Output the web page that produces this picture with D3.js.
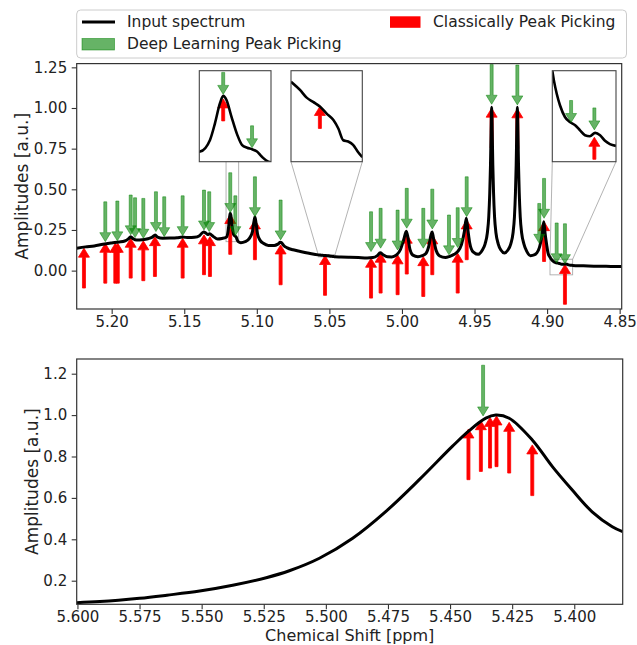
<!DOCTYPE html>
<html>
<head>
<meta charset="utf-8">
<script src="https://cdn.jsdelivr.net/npm/d3@7/dist/d3.min.js"></script>
<style>
  html, body { margin: 0; padding: 0; background: #fff; }
</style>
</head>
<body>
<script>
// ---- Spectrum, upper panel (ppm, amplitude), descending ppm ----
const spectrumTop = [
  [5.2241,0.138],[5.2180,0.146],[5.2120,0.152],[5.2060,0.162],[5.2000,0.170],[5.1950,0.176],
  [5.1910,0.182],[5.1885,0.195],[5.1869,0.208],[5.1852,0.196],[5.1828,0.188],[5.1790,0.190],
  [5.1750,0.196],[5.1720,0.206],[5.1700,0.219],[5.1684,0.206],[5.1650,0.199],[5.1600,0.200],
  [5.1550,0.202],[5.1511,0.206],[5.1470,0.203],[5.1430,0.205],[5.1395,0.215],[5.1366,0.238],
  [5.1350,0.230],[5.1338,0.222],[5.1326,0.226],[5.1300,0.210],[5.1270,0.195],[5.1240,0.198],
  [5.1211,0.205],[5.1199,0.236],[5.1193,0.280],[5.1187,0.333],[5.1183,0.353],[5.1179,0.342],
  [5.1173,0.298],[5.1166,0.250],[5.1160,0.222],[5.1154,0.215],[5.1148,0.211],[5.1142,0.205],
  [5.1136,0.191],[5.1128,0.178],[5.1110,0.172],[5.1080,0.178],[5.1050,0.200],[5.1030,0.240],
  [5.1020,0.300],[5.1013,0.330],[5.1005,0.290],[5.0995,0.225],[5.0980,0.190],[5.0955,0.168],
  [5.0920,0.155],[5.0880,0.155],[5.0855,0.163],[5.0838,0.174],[5.0828,0.170],[5.0815,0.155],
  [5.0790,0.140],[5.0750,0.128],[5.0700,0.118],[5.0640,0.107],
  [5.0577,0.0968],[5.0562,0.0955],[5.0552,0.0944],[5.0541,0.0937],[5.0530,0.0930],[5.0519,0.0919],
  [5.0508,0.0909],[5.0500,0.0896],[5.0492,0.0878],[5.0484,0.0876],[5.0476,0.0871],[5.0468,0.0860],
  [5.0461,0.0852],[5.0420,0.084],[5.0360,0.082],[5.0300,0.080],[5.0240,0.078],[5.0200,0.080],
  [5.0170,0.092],[5.0150,0.110],[5.0130,0.098],[5.0100,0.085],[5.0070,0.084],[5.0040,0.095],
  [5.0010,0.130],[4.9988,0.190],[4.9970,0.242],[4.9958,0.200],[4.9945,0.130],[4.9925,0.095],
  [4.9890,0.086],[4.9860,0.092],[4.9835,0.105],[4.9815,0.150],[4.9800,0.220],[4.9792,0.238],
  [4.9783,0.200],[4.9765,0.125],[4.9740,0.090],[4.9700,0.080],[4.9670,0.088],[4.9640,0.100],
  [4.9615,0.118],[4.9590,0.160],[4.9570,0.240],[4.9557,0.322],[4.9547,0.260],[4.9533,0.170],
  [4.9510,0.115],[4.9475,0.100],[4.9447,0.125],[4.9427,0.165],[4.9412,0.230],[4.9402,0.330],
  [4.9395,0.480],[4.9390,0.650],[4.9386,0.850],[4.9382,1.005],[4.9378,0.850],[4.9374,0.650],
  [4.9369,0.480],[4.9362,0.330],[4.9352,0.230],[4.9337,0.165],[4.9317,0.125],[4.9294,0.108],
  [4.9271,0.125],[4.9250,0.165],[4.9235,0.230],[4.9225,0.330],[4.9218,0.480],[4.9213,0.650],
  [4.9209,0.850],[4.9205,1.005],[4.9201,0.850],[4.9197,0.650],[4.9192,0.480],[4.9185,0.330],
  [4.9175,0.230],[4.9160,0.165],[4.9140,0.118],[4.9115,0.092],[4.9085,0.098],[4.9060,0.125],
  [4.9045,0.170],[4.9033,0.230],[4.9023,0.300],[4.9014,0.230],[4.9003,0.160],[4.8994,0.110],
  [4.8987,0.092],
  [4.8980,0.0830],[4.8976,0.0763],[4.8969,0.0673],[4.8961,0.0595],[4.8949,0.0517],[4.8937,0.0483],
  [4.8924,0.0461],[4.8912,0.0427],[4.8900,0.0394],[4.8888,0.0387],[4.8875,0.0410],[4.8863,0.0394],
  [4.8851,0.0356],[4.8839,0.0334],[4.8824,0.0322],[4.8750,0.030],[4.8650,0.027],[4.8560,0.026],
  [4.8486,0.025]
];

// Deep-learning picks (ppm, amplitude at arrow tip), upper panel
const dlPeaksTop = [
  [5.2044,0.178],[5.1961,0.183],[5.1869,0.220],[5.1839,0.203],[5.1782,0.199],[5.1695,0.240],
  [5.1638,0.209],[5.1511,0.215],[5.1364,0.250],[5.1328,0.240],[5.1183,0.357],[5.1148,0.215],
  [5.1013,0.332],[5.0836,0.189],[5.0213,0.117],[5.0147,0.138],[5.0030,0.127],[4.9967,0.261],
  [4.9853,0.138],[4.9791,0.256],[4.9676,0.097],[4.9616,0.142],[4.9554,0.332],[4.9382,1.023],
  [4.9205,1.019],[4.9054,0.168],[4.9021,0.322],[4.8934,0.048],[4.8877,0.043]
];

// Classical picks (ppm, amplitude at arrow tip), upper panel
const classicPeaksTop = [
  [5.2191,0.138],[5.2044,0.168],[5.1975,0.168],[5.1958,0.168],[5.1869,0.199],[5.1782,0.183],
  [5.1702,0.209],[5.1511,0.199],[5.1364,0.220],[5.1323,0.209],[5.1183,0.345],[5.1013,0.312],
  [5.0836,0.158],[5.0530,0.093],[5.0213,0.076],[5.0147,0.107],[5.0030,0.097],[4.9967,0.224],
  [4.9853,0.086],[4.9791,0.220],[4.9616,0.107],[4.9554,0.312],[4.9382,0.999],[4.9205,0.995],
  [4.9021,0.301],[4.8877,0.038]
];

// ---- Spectrum, lower panel ----
const spectrumBottom = [
  [5.6003,0.094],[5.5910,0.099],[5.5750,0.115],[5.5640,0.130],[5.5508,0.150],[5.5375,0.178],
  [5.5240,0.2145],[5.5147,0.248],[5.5026,0.3085],[5.4892,0.405],[5.4758,0.535],[5.4624,0.688],
  [5.4490,0.850],[5.4423,0.925],[5.4356,0.985],[5.4316,1.000],[5.4262,0.985],[5.4169,0.880],
  [5.4088,0.751],[5.4008,0.638],[5.3928,0.533],[5.3847,0.461],[5.3805,0.437]
];
const dlPeaksBottom = [[5.4367,0.996]];
const classicPeaksBottom = [
  [5.4426,0.933],[5.4376,0.973],[5.4339,0.989],[5.4313,0.996],[5.4262,0.965],[5.4169,0.856]
];

// Tick values
const topXTicks = [5.20, 5.15, 5.10, 5.05, 5.00, 4.95, 4.90, 4.85];
const topYTicks = [0.00, 0.25, 0.50, 0.75, 1.00, 1.25];
const bottomXTicks = [5.600, 5.575, 5.550, 5.525, 5.500, 5.475, 5.450, 5.425, 5.400];
const bottomYTicks = [0.2, 0.4, 0.6, 0.8, 1.0, 1.2];

// Legend entries
const legendLabels = ["Input spectrum", "Deep Learning Peak Picking", "Classically Peak Picking"];

// ---- Styling ----
const FONT = "DejaVu Sans, Verdana, sans-serif";
const GREEN = "rgba(0,128,0,0.6)";
const RED = "#ff0000";
const SPINE = "#333";
const ARROW_DATA_LEN = 0.245;   // arrow length in amplitude units
const INSET_ARROW_PX = 22;      // arrow length inside zoom panels

const W = 637, H = 645;
const svg = d3.select("body").append("svg")
  .attr("width", W).attr("height", H)
  .attr("font-family", FONT);

const topPanel = { left: 76.7, right: 621.7, top: 63.6, bottom: 309 };
const botPanel = { left: 76.7, right: 622.7, top: 359, bottom: 604.3 };

const xTop = d3.scaleLinear().domain([5.2241, 4.8486]).range([topPanel.left, topPanel.right]);
const yTop = d3.scaleLinear().domain([-0.236, 1.273]).range([topPanel.bottom, topPanel.top]);
const xBot = d3.scaleLinear().domain([5.6003, 5.3805]).range([botPanel.left, botPanel.right]);
const yBot = d3.scaleLinear().domain([0.086, 1.271]).range([botPanel.bottom, botPanel.top]);

// Arrow outline: tip at (x, yTip), tail at (x, yTail)
function arrowPath(x, yTip, yTail, headW, headL, shaftW) {
  const s = yTail < yTip ? 1 : -1;           // +1: points down, -1: points up
  const yb = yTip - s * headL;
  return [
    [x - shaftW / 2, yTail], [x - shaftW / 2, yb], [x - headW / 2, yb], [x, yTip],
    [x + headW / 2, yb], [x + shaftW / 2, yb], [x + shaftW / 2, yTail]
  ].map((p, i) => (i ? "L" : "M") + p[0].toFixed(2) + "," + p[1].toFixed(2)).join("") + "Z";
}

function drawArrows(g, peaks, x, y, dir, color, fixedPx, sizes) {
  g.selectAll(null).data(peaks).enter().append("path")
    .attr("d", d => {
      const px = x(d[0]), tip = y(d[1]);
      let tail;
      if (fixedPx) tail = dir === "down" ? tip - fixedPx : tip + fixedPx;
      else tail = dir === "down" ? y(d[1] + ARROW_DATA_LEN) : y(d[1] - ARROW_DATA_LEN);
      return arrowPath(px, tip, tail, sizes.hw, sizes.hl, sizes.sw);
    })
    .attr("fill", color)
    .attr("stroke", color)
    .attr("stroke-width", 0.8)
    .attr("stroke-linejoin", "miter");
}

const lineGen = (x, y, curve) => d3.line().x(d => x(d[0])).y(d => y(d[1])).curve(curve || d3.curveMonotoneX);

function styleAxis(g) {
  g.select(".domain").remove();
  g.selectAll(".tick line").attr("stroke", SPINE).attr("stroke-width", 1.1);
  g.selectAll(".tick text").attr("font-size", 15).attr("fill", "#222").attr("font-family", FONT);
}

function panel(p, x, y, xTicks, yTicks, xFmt, yFmt, id) {
  const defs = svg.append("defs");
  defs.append("clipPath").attr("id", id).append("rect")
    .attr("x", p.left).attr("y", p.top)
    .attr("width", p.right - p.left).attr("height", p.bottom - p.top);

  const gx = svg.append("g").attr("transform", `translate(0,${p.bottom})`)
    .call(d3.axisBottom(x).tickValues(xTicks).tickFormat(d3.format(xFmt))
      .tickSize(5).tickPadding(2.5));
  styleAxis(gx);
  const gy = svg.append("g").attr("transform", `translate(${p.left},0)`)
    .call(d3.axisLeft(y).tickValues(yTicks).tickFormat(d3.format(yFmt))
      .tickSize(5).tickPadding(4.5));
  styleAxis(gy);
  return svg.append("g").attr("clip-path", `url(#${id})`);
}

function frame(p) {
  svg.append("rect")
    .attr("x", p.left).attr("y", p.top)
    .attr("width", p.right - p.left).attr("height", p.bottom - p.top)
    .attr("fill", "none").attr("stroke", SPINE).attr("stroke-width", 1.2);
}

const mainSizes = { hw: 11, hl: 9, sw: 3 };

// ---------- Upper panel ----------
const gTop = panel(topPanel, xTop, yTop, topXTicks, topYTicks, ".2f", ".2f", "clipTop");

// Zoom panels: view windows onto the spectrum, plus the marked region in the main axes
const insets = [
  { box: [199.3, 70.7, 271.0, 161.7], xd: [5.1212, 5.1125], yd: [0.178, 0.42],   mark: [0.178, 0.9],   connect: false },
  { box: [291.0, 70.7, 362.3, 161.7], xd: [5.0577, 5.0461], yd: [0.0845, 0.0985], mark: [0.0845, 0.0985], connect: true },
  { box: [552.3, 70.7, 616.0, 161.7], xd: [4.8980, 4.8824], yd: [0.0215, 0.083],  mark: [-0.026, 0.070], connect: true }
];

// marked regions and connectors (beneath the zoom panels)
insets.forEach(ins => {
  const x0 = xTop(ins.xd[0]), x1 = xTop(ins.xd[1]);
  const yA = yTop(ins.mark[1]), yB = yTop(ins.mark[0]);
  gTop.append("rect").attr("x", x0).attr("y", yA).attr("width", x1 - x0).attr("height", yB - yA)
    .attr("fill", "none").attr("stroke", "#aaa").attr("stroke-width", 0.9);
  if (ins.connect) {
    gTop.append("line").attr("x1", ins.box[0]).attr("y1", ins.box[3]).attr("x2", x0).attr("y2", yA)
      .attr("stroke", "#aaa").attr("stroke-width", 0.9);
    gTop.append("line").attr("x1", ins.box[2]).attr("y1", ins.box[3]).attr("x2", x1).attr("y2", yA)
      .attr("stroke", "#aaa").attr("stroke-width", 0.9);
  }
});

drawArrows(gTop, classicPeaksTop, xTop, yTop, "up", RED, 0, mainSizes);
gTop.append("path").datum(spectrumTop)
  .attr("d", lineGen(xTop, yTop))
  .attr("fill", "none").attr("stroke", "#000").attr("stroke-width", 3)
  .attr("stroke-linejoin", "round");
drawArrows(gTop, dlPeaksTop, xTop, yTop, "down", GREEN, 0, mainSizes);

// zoom panels
insets.forEach((ins, i) => {
  const [bx0, by0, bx1, by1] = ins.box;
  const xi = d3.scaleLinear().domain(ins.xd).range([bx0, bx1]);
  const yi = d3.scaleLinear().domain(ins.yd).range([by1, by0]);
  const id = "clipInset" + i;
  svg.append("defs").append("clipPath").attr("id", id).append("rect")
    .attr("x", bx0).attr("y", by0).attr("width", bx1 - bx0).attr("height", by1 - by0);
  svg.append("rect").attr("x", bx0).attr("y", by0).attr("width", bx1 - bx0).attr("height", by1 - by0)
    .attr("fill", "#fff");
  const g = svg.append("g").attr("clip-path", `url(#${id})`);
  const inside = d => d[0] <= ins.xd[0] && d[0] >= ins.xd[1];
  const pad = 0.004;
  const seg = spectrumTop.filter(d => d[0] <= ins.xd[0] + pad && d[0] >= ins.xd[1] - pad);
  drawArrows(g, classicPeaksTop.filter(inside), xi, yi, "up", RED, INSET_ARROW_PX, mainSizes);
  g.append("path").datum(seg).attr("d", lineGen(xi, yi))
    .attr("fill", "none").attr("stroke", "#000").attr("stroke-width", 2.6)
    .attr("stroke-linejoin", "round");
  drawArrows(g, dlPeaksTop.filter(inside), xi, yi, "down", GREEN, INSET_ARROW_PX, mainSizes);
  svg.append("rect").attr("x", bx0).attr("y", by0).attr("width", bx1 - bx0).attr("height", by1 - by0)
    .attr("fill", "none").attr("stroke", "#444").attr("stroke-width", 1.1);
});

frame(topPanel);

svg.append("text")
  .attr("transform", `translate(21.7,${(topPanel.top + topPanel.bottom) / 2}) rotate(-90)`)
  .attr("text-anchor", "middle").attr("dominant-baseline", "central")
  .attr("font-size", 17).attr("fill", "#222")
  .text("Amplitudes [a.u.]");

// ---------- Lower panel ----------
const gBot = panel(botPanel, xBot, yBot, bottomXTicks, bottomYTicks, ".3f", ".1f", "clipBot");
drawArrows(gBot, classicPeaksBottom, xBot, yBot, "up", RED, 0, mainSizes);
gBot.append("path").datum(spectrumBottom)
  .attr("d", lineGen(xBot, yBot, d3.curveCatmullRom.alpha(0.5)))
  .attr("fill", "none").attr("stroke", "#000").attr("stroke-width", 3)
  .attr("stroke-linejoin", "round");
drawArrows(gBot, dlPeaksBottom, xBot, yBot, "down", GREEN, 0, mainSizes);
frame(botPanel);

svg.append("text")
  .attr("transform", `translate(31.7,${(botPanel.top + botPanel.bottom) / 2}) rotate(-90)`)
  .attr("text-anchor", "middle").attr("dominant-baseline", "central")
  .attr("font-size", 17).attr("fill", "#222")
  .text("Amplitudes [a.u.]");

svg.append("text")
  .attr("x", (botPanel.left + botPanel.right) / 2).attr("y", 640.5)
  .attr("text-anchor", "middle")
  .attr("font-size", 16).attr("fill", "#222")
  .text("Chemical Shift [ppm]");

// ---------- Legend ----------
const lg = svg.append("g");
lg.append("rect").attr("x", 76.7).attr("y", 10).attr("width", 549.8).attr("height", 48)
  .attr("rx", 4).attr("fill", "#fff").attr("stroke", "#ccc").attr("stroke-width", 1);
lg.append("line").attr("x1", 82).attr("x2", 115).attr("y1", 22).attr("y2", 22)
  .attr("stroke", "#000").attr("stroke-width", 3);
lg.append("rect").attr("x", 82).attr("y", 38.5).attr("width", 32.5).attr("height", 11.5)
  .attr("fill", GREEN).attr("stroke", GREEN).attr("stroke-width", 0.8);
lg.append("rect").attr("x", 390).attr("y", 16.3).attr("width", 30.5).attr("height", 11.5)
  .attr("fill", RED);
const legendPos = [[127, 22], [127, 44], [433, 22]];
legendLabels.forEach((t, i) => {
  lg.append("text").attr("x", legendPos[i][0]).attr("y", legendPos[i][1])
    .attr("dominant-baseline", "central").attr("font-size", 15.5).attr("fill", "#222")
    .text(t);
});
</script>
</body>
</html>
